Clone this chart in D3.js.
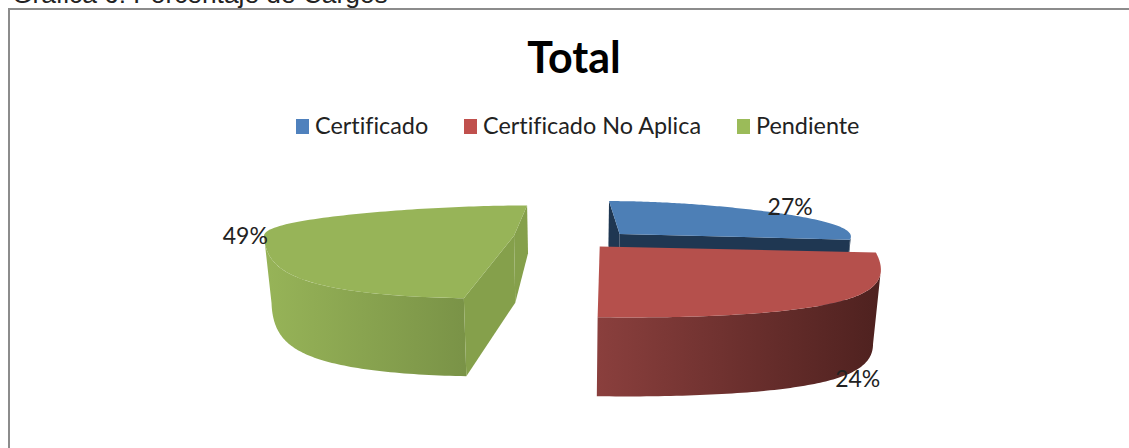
<!DOCTYPE html>
<html>
<head>
<meta charset="utf-8">
<script src="https://cdn.jsdelivr.net/npm/d3@7"></script>
<style>
  html, body { margin: 0; padding: 0; background: #fff; overflow: hidden; }
  svg { display: block; }
  text { font-variant-ligatures: none; }
</style>
</head>
<body>
<div id="chart"></div>
<script>
// Chart values
const caption = 'Gráfica 6: Porcentaje de Cargos';
const chartTitle = 'Total';
const categories = ['Certificado', 'Certificado No Aplica', 'Pendiente'];
const percents = [27, 24, 49];

// Colours per slice
const legendColors = ['#4f81bd', '#c0504d', '#9bbb59'];
const topColors = ['#4d7fb6', '#b5504c', '#97b458'];
const cutColors = ['#1f3752', '#7c3a38', '#85a04b'];
const wallFrom = ['#1f3752', '#8a3f3d', '#97b458'];
const wallTo = ['#1f3752', '#4e211f', '#7a9347'];

const width = 1129, height = 448;

const svg = d3.select('#chart').append('svg')
  .attr('width', width)
  .attr('height', height);
const defs = svg.append('defs');

// caption cut off by the top of the screenshot
svg.append('text')
  .attr('x', 12).attr('y', 3)
  .attr('font-family', '"Liberation Sans", Arial, sans-serif')
  .attr('font-size', 26.3)
  .attr('fill', '#222')
  .text(caption);

// chart frame: only left and top show in the crop
svg.append('path')
  .attr('d', d3.line()([[9, height], [9, 9], [width, 9]]))
  .attr('fill', 'none')
  .attr('stroke', '#8c8c8c')
  .attr('stroke-width', 2);

svg.append('text')
  .attr('x', 574).attr('y', 73)
  .attr('text-anchor', 'middle')
  .attr('font-family', 'Lato, sans-serif')
  .attr('font-weight', 700)
  .attr('font-size', 43)
  .attr('fill', '#000')
  .text(chartTitle);

// Legend
const legendX = [296, 464, 737];
const legend = svg.append('g')
  .selectAll('g')
  .data(categories)
  .join('g')
  .attr('transform', (d, i) => `translate(${legendX[i]},119)`);
legend.append('rect')
  .attr('width', 13).attr('height', 15)
  .attr('fill', (d, i) => legendColors[i]);
legend.append('text')
  .attr('x', 19).attr('y', 15)
  .attr('font-family', 'Lato, sans-serif')
  .attr('font-size', 23.4)
  .attr('fill', '#222')
  .text(d => d);

// Pie angles come from d3.pie, the 3D look is a simple perspective on top
const arcs = d3.pie().sort(null).value(d => d)(percents);
const TAU = 2 * Math.PI;
const cx = 568, cy = 240, persp = 0.35, explode = 0.2;
// the slices are not quite one rigid pie in the original, so each gets its own fit
const fitX = [232, 270, 250];
const fitY = [48, 40, 41];
const shiftX = [17, -3, -4];
const shiftY = [0, 0, -4];
const depthAt = wy => 67 - 15 * wy - 4 * wy * wy;

// world position of a point on a slice (r=0 centre, r=1 rim)
function world(d, angle, r) {
  const mid = (d.startAngle + d.endAngle) / 2;
  return [
    r * Math.sin(angle) + explode * Math.sin(mid),
    r * Math.cos(angle) + explode * Math.cos(mid)
  ];
}
function top3d(d, angle, r, scale = 1, drop = 0) {
  const [wx, wy] = world(d, angle, r);
  const i = d.index;
  const denX = 1 + persp * wy * Math.abs(wy);
  const denY = 1 + persp * wy;
  return [
    cx + shiftX[i] + scale * fitX[i] * wx / denX,
    cy + shiftY[i] - fitY[i] * wy / denY + drop * depthAt(wy)
  ];
}
const bottom3d = (d, angle, r) => top3d(d, angle, r, 0.975, 1);
function rimAngles(a0, a1) {
  return d3.range(0, 121).map(k => a0 + (a1 - a0) * k / 120);
}

const line = d3.line();
const pieG = svg.append('g');

// left slice first, then blue, red sits in front of blue
[2, 0, 1].forEach(i => {
  const d = arcs[i];
  const g = pieG.append('g');

  // outer wall, from the right silhouette to the left silhouette
  const front = rimAngles(Math.max(d.startAngle, Math.PI / 2), Math.min(d.endAngle, TAU * 0.8));
  const from = d3.greatestIndex(front, a => top3d(d, a, 1)[0]);
  const to = d3.leastIndex(front, a => top3d(d, a, 1)[0]);
  if (to > from) {
    const rim = front.slice(from, to + 1);
    const upper = rim.map(a => top3d(d, a, 1));
    const lower = rim.map(a => bottom3d(d, a, 1)).reverse();
    const xs = d3.extent(upper, p => p[0]);
    const gradient = defs.append('linearGradient')
      .attr('id', 'wall' + i)
      .attr('gradientUnits', 'userSpaceOnUse')
      .attr('x1', xs[0]).attr('x2', xs[1])
      .attr('y1', 0).attr('y2', 0);
    gradient.append('stop').attr('offset', 0).attr('stop-color', wallFrom[i]);
    gradient.append('stop').attr('offset', 1).attr('stop-color', wallTo[i]);
    g.append('path')
      .attr('d', line(upper.concat(lower)) + 'Z')
      .attr('fill', `url(#wall${i})`);
  }

  // the two cut faces (both of red's turn away from the viewer)
  if (i !== 1) {
    [d.startAngle, d.endAngle].forEach(a => {
      g.append('path')
        .attr('d', line([top3d(d, a, 0), top3d(d, a, 1), bottom3d(d, a, 1), bottom3d(d, a, 0)]) + 'Z')
        .attr('fill', cutColors[i]);
    });
  }

  // top face
  const rim = rimAngles(d.startAngle, d.endAngle).map(a => top3d(d, a, 1));
  g.append('path')
    .attr('d', line([top3d(d, 0, 0)].concat(rim)) + 'Z')
    .attr('fill', topColors[i]);
});

// Percent labels
const labelNudge = [[34, -1], [-2, 86], [-19, 4]];
svg.append('g')
  .selectAll('text')
  .data(arcs)
  .join('text')
  .attr('x', (d, i) => top3d(d, (d.startAngle + d.endAngle) / 2, 1)[0] + labelNudge[i][0])
  .attr('y', (d, i) => top3d(d, (d.startAngle + d.endAngle) / 2, 1)[1] + labelNudge[i][1])
  .attr('text-anchor', 'middle')
  .attr('dominant-baseline', 'middle')
  .attr('font-family', 'Lato, sans-serif')
  .attr('font-size', 23)
  .attr('fill', '#222')
  .text(d => d.data + '%');
</script>
</body>
</html>
